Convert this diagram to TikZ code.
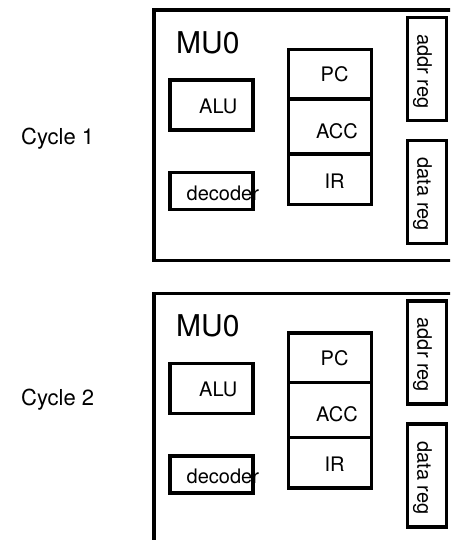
\documentclass[tikz,border=0pt]{standalone}
\usepackage{fontspec}
\setmainfont{TeX Gyre Heros}
\begin{document}
\begin{tikzpicture}[x=1pt,y=-1pt,
  box/.style={draw=black, line width=3.5pt, rectangle, inner sep=0pt},
  frame/.style={draw=black, line width=3.5pt, rectangle, inner sep=0pt, minimum width=316pt, minimum height=250.5pt},
  lbl/.style={inner sep=0pt, anchor=base west, font=\fontsize{20}{24}\selectfont},
  title/.style={inner sep=0pt, anchor=base west, font=\fontsize{30}{36}\selectfont},
  cyc/.style={inner sep=0pt, anchor=base west, font=\fontsize{22}{26}\selectfont}]
\useasboundingbox (0,0) rectangle (450,540);
\clip (0,0) rectangle (450,540);
\node[cyc] (cyc1) at (21,145) {Cycle 1};
\node[cyc] (cyc2) at (21,405) {Cycle 2};
\foreach \s/\dy in {1/0, 2/283.5} {
  \begin{scope}[yshift=-\dy pt]
    \node[frame] (mu\s) at (312,135.25) {};
    \node[title] (mut\s) at (176,53.3) {MU0};
    \node[box, minimum width=83pt, minimum height=50pt] (alu\s) at (211.5,105) {};
    \node[lbl] (alut\s) at (199,113.3) {ALU};
    \node[box, minimum width=83pt, minimum height=37pt] (dec\s) at (211.5,191) {};
    \node[lbl] (dect\s) at (186.5,200) {decoder};
    \node[box, minimum width=83pt, minimum height=49.5pt] (pc\s) at (330,74.25) {};
    \node[box, minimum width=83pt, minimum height=55pt] (acc\s) at (330,126.5) {};
    \node[box, minimum width=83pt, minimum height=50.5pt] (ir\s) at (330,179.25) {};
    \node[lbl] (pct\s) at (320.5,81.7) {PC};
    \node[lbl] (acct\s) at (316,138.3) {ACC};
    \node[lbl] (irt\s) at (324.3,188.3) {IR};
    \node[box, minimum width=39pt, minimum height=103pt] (addr\s) at (427,69) {};
    \node[box, minimum width=39pt, minimum height=103pt] (data\s) at (427,192) {};
    \node[lbl, rotate=-90] (addrt\s) at (417.3,34) {addr reg};
    \node[lbl, rotate=-90] (datat\s) at (417.3,157.5) {data reg};
  \end{scope}
}
\end{tikzpicture}
\end{document}
